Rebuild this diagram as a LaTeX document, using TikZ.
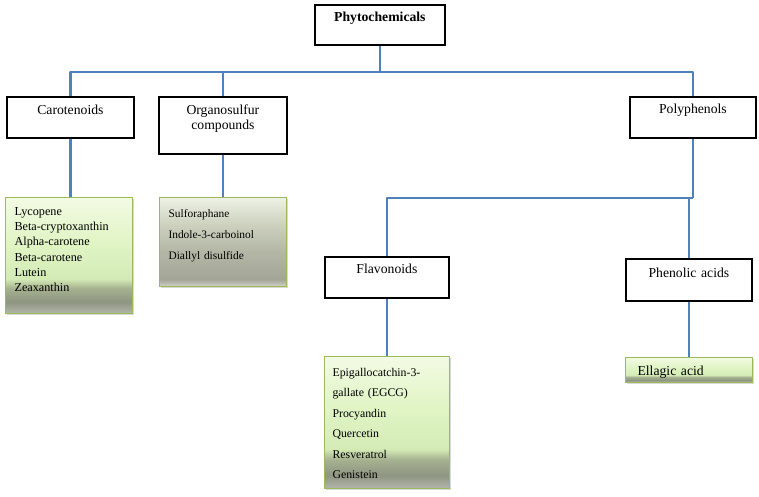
\documentclass[tikz,border=0pt]{standalone}
\usepackage{fontspec}
\setmainfont{Liberation Serif}
\usetikzlibrary{shadows}
\definecolor{lineblue}{HTML}{4F81BD}
\definecolor{boxgreen}{HTML}{9BBB59}
\definecolor{gA}{HTML}{B4B6AC}
\definecolor{gB}{HTML}{8E9582}
\definecolor{gC}{HTML}{A6B290}
\definecolor{gD}{HTML}{D4EBB6}
\definecolor{gE}{HTML}{E0F4C4}
\definecolor{gF}{HTML}{F3FBE4}
\pgfdeclareverticalshading{greenfill}{100bp}{color(0bp)=(gA); color(25bp)=(gA); color(30bp)=(gB); color(36bp)=(gC); color(40bp)=(gD); color(55bp)=(gE); color(75bp)=(gF); color(100bp)=(gF)}
\definecolor{sA}{HTML}{D2D3CB}
\definecolor{sB}{HTML}{A3A596}
\definecolor{sC}{HTML}{B4B7A6}
\definecolor{sD}{HTML}{CDD1BE}
\definecolor{sE}{HTML}{EEF1E6}
\pgfdeclareverticalshading{grayfill}{100bp}{color(0bp)=(sA); color(25bp)=(sA); color(29bp)=(sB); color(45bp)=(sC); color(60bp)=(sD); color(75bp)=(sE); color(100bp)=(sE)}
\tikzset{
  conn/.style={draw=lineblue, line width=2.6pt, line join=round},
  hdr/.style={draw=black, line width=1.8pt, fill=white, anchor=north west, inner sep=0pt, align=center, font=\fontsize{13.7}{14.5}\selectfont},
  lst/.style={draw=boxgreen, line width=1.1pt, anchor=north west, inner ysep=0pt, align=left, drop shadow={opacity=0.3, shadow xshift=1.2pt, shadow yshift=-1.5pt}},
  greenlst/.style={lst, shade, shading=greenfill},
  graylst/.style={lst, shade, shading=grayfill}
}
\begin{document}
\begin{tikzpicture}[x=1pt,y=-1pt]
\fill[white] (0,0) rectangle (759,496);
\useasboundingbox (0,0) rectangle (759,496);

% header boxes
\node[hdr, font=\bfseries\fontsize{13.7}{14.5}\selectfont, text width=130pt, text height=17pt, text depth=23pt] (phy) at (314,4) {Phytochemicals};
\node[hdr, text width=127pt, text height=17.5pt, text depth=23.5pt] (car) at (6,96) {Carotenoids};
\node[hdr, text width=128pt, text height=18pt, text depth=39pt] (org) at (158,96) {Organosulfur\\compounds};
\node[hdr, text width=126pt, text height=17pt, text depth=24pt] (pol) at (629,96) {Polyphenols};
\node[hdr, text width=124pt, text height=17pt, text depth=24pt] (fla) at (324,256) {Flavonoids};
\node[hdr, text width=126pt, text height=19pt, text depth=23pt] (phe) at (625,258) {Phenolic acids};

% list boxes
\node[greenlst, inner xsep=9pt, text width=109pt, text height=18pt, text depth=98pt, font=\fontsize{12.2}{15.2}\selectfont] (carl) at (5,197)
  {Lycopene\\Beta-cryptoxanthin\\Alpha-carotene\\Beta-carotene\\Lutein\\Zeaxanthin};
\node[graylst, inner xsep=9pt, text width=109pt, text height=20pt, text depth=69pt, font=\fontsize{11.4}{21}\selectfont] (orgl) at (159,197)
  {Sulforaphane\\Indole-3-carboinol\\Diallyl disulfide};
\node[greenlst, inner xsep=8pt, text width=109pt, text height=20pt, text depth=112pt, font=\fontsize{11.8}{20.4}\selectfont] (flal) at (324,356)
  {Epigallocatchin-3-\\gallate (EGCG)\\Procyandin\\Quercetin\\Resveratrol\\Genistein};
\node[greenlst, inner xsep=12pt, text width=103pt, text height=18pt, text depth=7pt, font=\fontsize{13.7}{15}\selectfont] (phel) at (625,357)
  {Ellagic acid};

% connectors
\path (phy.south) ++(0,26) coordinate (j1);
\path (pol.south) ++(0,59) coordinate (j2);
\draw[conn] (phy.south) -- (j1);
\draw[conn] (j1) -| (car.north);
\draw[conn] (j1) -| (org.north);
\draw[conn] (j1) -| (pol.north);
\draw[conn] (pol.south) -- (j2);
\draw[conn] (j2) -| (fla.north);
\draw[conn] (j2) -| (phe.north);
\draw[conn] (car.south) -- (car.south |- carl.north);
\draw[conn] (org.south) -- (org.south |- orgl.north);
\draw[conn] (fla.south) -- (fla.south |- flal.north);
\draw[conn] (phe.south) -- (phe.south |- phel.north);
\end{tikzpicture}
\end{document}
